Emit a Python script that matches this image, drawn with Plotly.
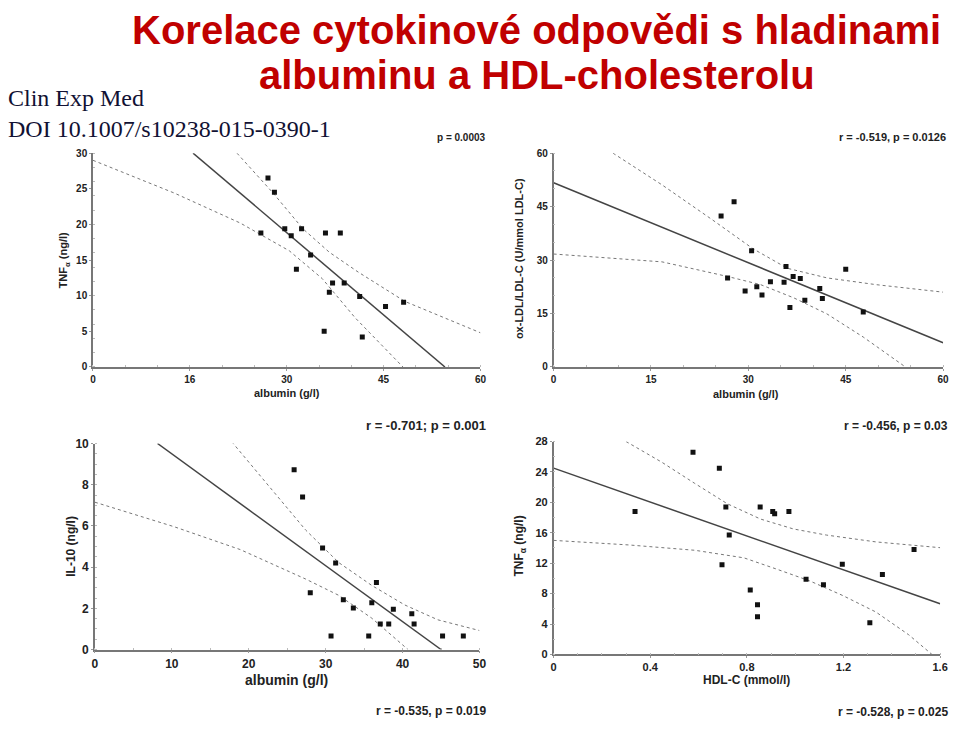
import plotly.graph_objects as go

# ---------------- data ----------------
# Panel A: TNF-alpha vs albumin
a_alb = [27.1, 28.1, 26.0, 29.7, 30.7, 32.3, 31.5, 33.7, 36.0, 38.3, 37.1, 36.6, 38.9, 41.3, 45.3, 48.1, 35.8, 41.7]
a_tnf = [26.5, 24.5, 18.8, 19.4, 18.4, 19.4, 13.7, 15.7, 18.8, 18.8, 11.8, 10.5, 11.8, 9.9, 8.5, 9.1, 5.0, 4.2]
a_fit_x = [15.5, 54.5]
a_fit_y = [30.0, 0.0]
a_up_x = [22.3, 27.9, 32.5, 36.6, 41.1, 48.3, 60.0]
a_up_y = [30.0, 24.4, 19.4, 16.1, 13.3, 9.2, 4.8]
a_lo_x = [0.0, 12.6, 22.8, 30.4, 35.5, 40.6, 48.0]
a_lo_y = [29.0, 24.4, 20.2, 16.3, 12.4, 6.9, 0.0]

# Panel B: ox-LDL/LDL-C vs albumin
b_alb = [25.8, 27.8, 26.8, 30.5, 29.5, 31.3, 32.1, 33.4, 35.5, 35.8, 36.9, 38.0, 36.4, 38.7, 41.0, 41.4, 45.0, 47.7]
b_ox = [42.4, 46.4, 25.0, 32.6, 21.3, 22.5, 20.2, 23.9, 23.8, 28.2, 25.4, 24.8, 16.7, 18.7, 22.0, 19.2, 27.4, 15.4]
b_fit_x = [0.0, 60.0]
b_fit_y = [51.7, 6.8]
b_up_x = [9.15, 16.7, 24.3, 30.7, 36.0, 42.1, 49.7, 60.0]
b_up_y = [60.0, 51.1, 41.5, 33.2, 27.7, 25.0, 23.1, 21.0]
b_lo_x = [0.0, 16.7, 26.8, 31.9, 37.0, 42.1, 47.7, 54.2]
b_lo_y = [31.7, 29.5, 25.4, 23.1, 19.4, 14.9, 8.4, 0.0]

# Panel C: IL-10 vs albumin
c_alb = [25.9, 27.0, 29.6, 31.3, 28.0, 30.7, 32.3, 33.6, 35.6, 36.0, 36.6, 37.1, 38.2, 38.8, 41.2, 41.5, 45.2, 47.9]
c_il10 = [8.73, 7.40, 4.93, 4.20, 2.76, 0.65, 2.41, 2.01, 0.65, 2.27, 3.25, 1.24, 1.24, 1.95, 1.73, 1.24, 0.65, 0.65]
c_fit_x = [8.14, 45.0]
c_fit_y = [10.0, 0.0]
c_up_x = [17.8, 23.1, 27.4, 31.7, 36.0, 40.3, 44.6, 50.0]
c_up_y = [10.08, 7.70, 5.80, 4.22, 3.11, 2.16, 1.44, 0.92]
c_lo_x = [0.0, 10.3, 18.9, 27.4, 31.7, 36.0, 40.7]
c_lo_y = [7.15, 5.96, 4.85, 3.42, 2.63, 1.52, 0.0]

# Panel D: TNF-alpha vs HDL-C
d_hdl = [0.337, 0.577, 0.686, 0.713, 0.697, 0.727, 0.814, 0.844, 0.844, 0.855, 0.907, 0.915, 0.974, 1.045, 1.117, 1.195, 1.309, 1.361, 1.492]
d_tnf = [18.8, 26.6, 24.5, 19.4, 11.8, 15.7, 8.46, 6.53, 4.94, 19.4, 18.8, 18.5, 18.8, 9.88, 9.15, 11.85, 4.17, 10.5, 13.8]
d_fit_x = [0.0, 1.6]
d_fit_y = [24.5, 6.66]
d_up_x = [0.300, 0.447, 0.584, 0.720, 0.857, 0.993, 1.129, 1.334, 1.6]
d_up_y = [28.0, 25.3, 22.5, 19.8, 17.8, 16.5, 15.7, 14.8, 14.04]
d_lo_x = [0.0, 0.311, 0.584, 0.788, 0.925, 1.061, 1.198, 1.334, 1.470, 1.566]
d_lo_y = [15.0, 14.4, 13.7, 12.7, 11.2, 9.66, 7.73, 5.58, 2.58, 0.0]

# tick labels
a_xticks = [0, 15, 30, 45, 60]
a_xticktext = ["0", "16", "30", "45", "60"]
a_yticks = [0, 5, 10, 15, 20, 25, 30]
b_xticks = [0, 15, 30, 45, 60]
b_yticks = [0, 15, 30, 45, 60]
c_xticks = [0, 10, 20, 30, 40, 50]
c_yticks = [0, 2, 4, 6, 8, 10]
d_xticks = [0, 0.4, 0.8, 1.2, 1.6]
d_xticktext = ["0", "0.4", "0.8", "1.2", "1.6"]
d_yticks = [0, 4, 8, 12, 16, 20, 24, 28]

title_lines = ["Korelace cytokinové odpovědi s hladinami", "albuminu a HDL-cholesterolu"]

# ---------------- figure ----------------
W, H = 960, 734
fig = go.Figure()

def dom_x(l, r):
    return [l / W, r / W]

def dom_y(t, b):
    return [1 - b / H, 1 - t / H]

panels = [
    dict(x=a_alb, y=a_tnf, fx=a_fit_x, fy=a_fit_y, ux=a_up_x, uy=a_up_y, lx=a_lo_x, ly=a_lo_y,
         xd=dom_x(91, 483), yd=dom_y(149, 367), xr=[0, 60], yr=[0, 30],
         xt=a_xticks, xtt=a_xticktext, yt=a_yticks, fs=10),
    dict(x=b_alb, y=b_ox, fx=b_fit_x, fy=b_fit_y, ux=b_up_x, uy=b_up_y, lx=b_lo_x, ly=b_lo_y,
         xd=dom_x(557, 951), yd=dom_y(149, 367), xr=[0, 60], yr=[0, 60],
         xt=b_xticks, xtt=[str(v) for v in b_xticks], yt=b_yticks, fs=10),
    dict(x=c_alb, y=c_il10, fx=c_fit_x, fy=c_fit_y, ux=c_up_x, uy=c_up_y, lx=c_lo_x, ly=c_lo_y,
         xd=dom_x(93, 482), yd=dom_y(445, 655), xr=[0, 50], yr=[0, 10],
         xt=c_xticks, xtt=[str(v) for v in c_xticks], yt=c_yticks, fs=12),
    dict(x=d_hdl, y=d_tnf, fx=d_fit_x, fy=d_fit_y, ux=d_up_x, uy=d_up_y, lx=d_lo_x, ly=d_lo_y,
         xd=dom_x(557, 948), yd=dom_y(443, 660), xr=[0, 1.6], yr=[0, 28],
         xt=d_xticks, xtt=d_xticktext, yt=d_yticks, fs=11),
]

tickfont_family = "Liberation Sans, Arial, sans-serif"

for i, p in enumerate(panels, start=1):
    sx = "" if i == 1 else str(i)
    xa, ya = "x" + sx, "y" + sx
    fig.add_trace(go.Scatter(x=p["ux"], y=p["uy"], mode="lines", xaxis=xa, yaxis=ya,
                             line=dict(color="#777777", width=1, dash="dot"), showlegend=False))
    fig.add_trace(go.Scatter(x=p["lx"], y=p["ly"], mode="lines", xaxis=xa, yaxis=ya,
                             line=dict(color="#777777", width=1, dash="dot"), showlegend=False))
    fig.add_trace(go.Scatter(x=p["fx"], y=p["fy"], mode="lines", xaxis=xa, yaxis=ya,
                             line=dict(color="#444444", width=1.5), showlegend=False))
    fig.add_trace(go.Scatter(x=p["x"], y=p["y"], mode="markers", xaxis=xa, yaxis=ya,
                             marker=dict(symbol="square", size=5, color="#111111"), showlegend=False))
    axcommon = dict(showgrid=False, zeroline=False, showline=True, linecolor="#777777", linewidth=1.5,
                    ticks="outside", ticklen=2, tickcolor="#999999",
                    tickfont=dict(family=tickfont_family, size=p["fs"], color="#222222", weight="bold"),
                    minor=dict(ticks="inside", ticklen=2, tickcolor="#bbbbbb"))
    fig.layout["xaxis" + sx] = dict(domain=p["xd"], range=p["xr"], anchor=ya, tickvals=p["xt"],
                                    ticktext=p["xtt"], **axcommon)
    fig.layout["yaxis" + sx] = dict(domain=p["yd"], range=p["yr"], anchor=xa, tickvals=p["yt"],
                                    **axcommon)

def ann(x, y, text, size, angle=0, xanchor="center", color="#222222", family=tickfont_family, bold=True):
    fig.add_annotation(x=x / W, y=1 - y / H, xref="paper", yref="paper", text=text, showarrow=False,
                       textangle=angle, xanchor=xanchor, yanchor="middle", borderpad=0,
                       font=dict(family=family, size=size, color=color, weight="bold" if bold else "normal"))

# axis titles
ann(287, 394, "albumin (g/l)", 11)
ann(62, 258, "TNF<sub>α</sub> (ng/l)", 11, angle=-90)
ann(752, 395, "albumin (g/l)", 11)
ann(522, 257, "ox-LDL/LDL-C (U/mmol LDL-C)", 11, angle=-90)
ann(287, 686, "albumin (g/l)", 14)
ann(68, 550, "IL-10 (ng/l)", 12, angle=-90)
ann(752, 686, "HDL-C (mmol/l)", 12)
ann(523, 550, "TNF<sub>α</sub> (ng/l)", 12, angle=-90)

# statistics
ann(490, 133, "p = 0.0003", 10, xanchor="right")
ann(955, 133, "r = -0.519, p = 0.0126", 11, xanchor="right")
ann(490, 427, "r = -0.701; p = 0.001", 13, xanchor="right")
ann(490, 718, "r = -0.535, p = 0.019", 12, xanchor="right")
ann(957, 427, "r = -0.456, p = 0.03", 12, xanchor="right")
ann(957, 719, "r = -0.528, p = 0.025", 12, xanchor="right")

# title
ann(540, 23, title_lines[0], 40, color="#C00000", family="Liberation Sans, sans-serif")
ann(540, 69, title_lines[1], 40, color="#C00000", family="Liberation Sans, sans-serif")

# source
ann(4, 93, "Clin Exp Med", 24, xanchor="left", color="#111133", family="Liberation Serif, serif", bold=False)
ann(4, 124, "DOI 10.1007/s10238-015-0390-1", 24, xanchor="left", color="#111133",
    family="Liberation Serif, serif", bold=False)

fig.update_layout(width=W, height=H, margin=dict(l=0, r=0, t=0, b=0),
                  paper_bgcolor="white", plot_bgcolor="white", showlegend=False)

fig.write_html("out.html")
